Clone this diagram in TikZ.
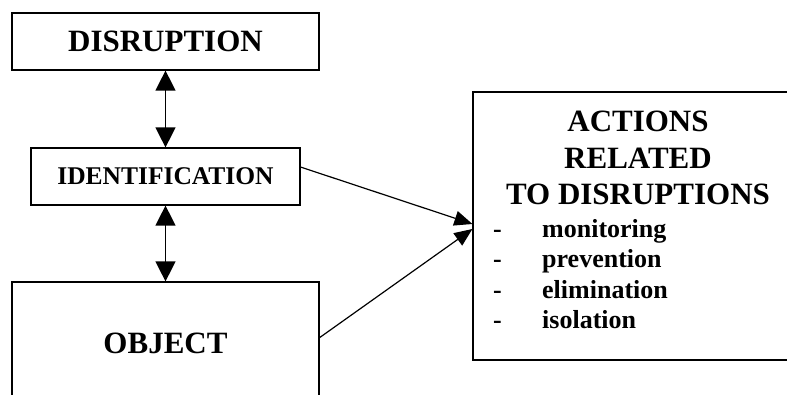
\documentclass[tikz,border=0pt]{standalone}
\usepackage{fontspec}
\setmainfont{Liberation Serif}
\usetikzlibrary{arrows.meta}

\begin{document}
\begin{tikzpicture}[x=1pt, y=1pt,
        box/.style={draw, line width=1.2pt, inner sep=0pt},
        big/.style={font=\fontsize{31}{36.5}\selectfont\bfseries},
        both/.style={{Triangle[length=20pt, width=20pt]}-{Triangle[length=20pt, width=20pt]},
            line width=1.3pt},
        link/.style={-{Triangle[length=18pt, width=15pt]}, line width=1.2pt}]
        \useasboundingbox (0, 0) rectangle (787, 394);
        \clip (0, 0) rectangle (787, 394);
        \node[box, big, minimum width=307pt, minimum height=57pt] (dis)
            at (165.5, 352.5) {DISRUPTION};
        \node[box, font=\fontsize{25.5}{30}\selectfont\bfseries,
            minimum width=269pt, minimum height=57pt] (ident)
            at (165.5, 217.5) {IDENTIFICATION};
        \node[box, big, minimum width=307pt, minimum height=122pt] (obj)
            at (165.5, 51) {OBJECT};
        \node[box, minimum width=330pt, minimum height=268pt] (act) at (638, 168) {};
        \node[big, align=center, anchor=north, inner sep=0pt] (title)
            at (638, 283) {ACTIONS\\RELATED\\TO DISRUPTIONS};
        \node[font=\fontsize{26}{30.5}\selectfont\bfseries, align=left,
            anchor=north west, inner sep=0pt] (list) at (493, 175)
            {\makebox[49pt][l]{-}monitoring\\\makebox[49pt][l]{-}prevention\\
             \makebox[49pt][l]{-}elimination\\\makebox[49pt][l]{-}isolation};
        \draw[both] (dis) -- (ident);
        \draw[both] (ident) -- (obj);
        \draw[link] (ident.4) -- ([yshift=2pt]act.west);
        \draw[link] (obj.2) -- ([yshift=-3pt]act.west);
    \end{tikzpicture}
\end{document}
